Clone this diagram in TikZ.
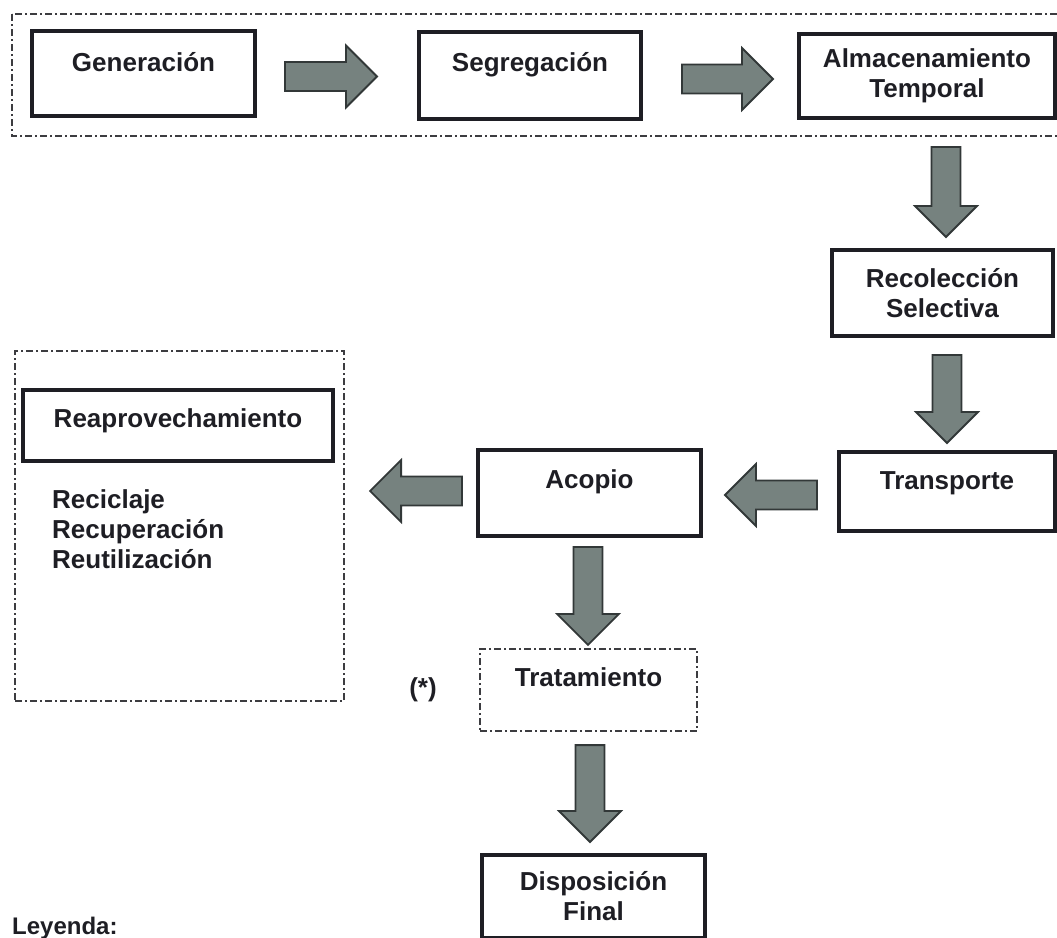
\documentclass[tikz,border=0pt]{standalone}
\usepackage{fontspec}
\setmainfont{Liberation Sans}
\usetikzlibrary{calc}

\definecolor{tinta}{RGB}{30,30,36}
\definecolor{grisflecha}{RGB}{118,130,127}
\definecolor{bordeflecha}{RGB}{50,56,56}
\definecolor{grismarco}{RGB}{60,60,64}

% flecha gruesa de #1 a #2
\newcommand{\flecha}[2]{%
  \path ($(#2)!31pt!(#1)$) coordinate (hb);
  \filldraw[flechagris] ($(#1)!14.5pt!90:(#2)$) -- ($(hb)!14.5pt!90:(#2)$)
    -- ($(hb)!31pt!90:(#2)$) -- (#2) -- ($(hb)!31pt!-90:(#2)$)
    -- ($(hb)!14.5pt!-90:(#2)$) -- ($(#1)!14.5pt!-90:(#2)$) -- cycle;}

\begin{document}
\begin{tikzpicture}[x=1pt,y=-1pt,
                    every node/.style={font=\fontsize{26}{30}\selectfont\bfseries, text=tinta},
                    caja/.style={draw=tinta, line width=4pt},
                    unalinea/.style={text height=19pt, text depth=#1},
                    unalinea/.default=25pt,
                    marco/.style={draw=grismarco, line width=2.2pt,
                            dash pattern=on 7pt off 3pt on 2pt off 3pt},
                    flechagris/.style={fill=grisflecha, draw=bordeflecha, line width=1.8pt}]

                    \useasboundingbox (0,0) rectangle (1057,937);
                    \clip (0,0) rectangle (1057,937);

                    % marcos
                    \draw[marco] (12,14) rectangle (1080,136);
                    \node[marco, minimum width=329pt, minimum height=350pt] (reuso) at (179.5,526) {};

                    % cajas
                    \node[caja, unalinea=23pt, minimum width=223pt, minimum height=85pt] (gen) at (143.5,73.5) {Generación};
                    \node[caja, unalinea=27pt, minimum width=222pt, minimum height=87pt] (seg) at (530,75.5) {Segregación};
                    \node[caja, align=center, minimum width=256pt, minimum height=84pt] (alm) at (927,76) {Almacenamiento\\Temporal};
                    \node[caja, align=center, minimum width=221pt, minimum height=86pt] (rec) at (942.5,293) {Recolección\\Selectiva};
                    \node[caja, unalinea=23pt, minimum width=216pt, minimum height=79pt] (tra) at (947,491.5) {Transporte};
                    \node[caja, unalinea=28pt, minimum width=223pt, minimum height=86pt] (aco) at (589.5,493) {Acopio};
                    \node[caja, unalinea=15pt, minimum width=310pt, minimum height=71pt] (reap) at (178,425.5) {Reaprovechamiento};
                    \node[marco, unalinea=26pt, minimum width=217pt, minimum height=82pt] (trat) at (588.5,690) {Tratamiento};
                    \node[caja, align=center, minimum width=223pt, minimum height=83pt] (dis) at (593.5,896.5) {Disposición\\Final};

                    \node[anchor=north west, inner sep=0pt, align=left] (lista) at (52,489)
                        {Reciclaje\\Recuperación\\Reutilización};
                    \node (nota) at (423,690) {(*)};
                    \node[anchor=base west, inner sep=0pt, font=\fontsize{24}{28}\selectfont\bfseries] (leyenda) at (12,934) {Leyenda:};

                    % flechas
                    \coordinate (f1a) at ([shift={(28,3)}]gen.east);
                    \coordinate (f1b) at ([shift={(-40,1)}]seg.west);
                    \coordinate (f2a) at ([shift={(39,3.5)}]seg.east);
                    \coordinate (f2b) at ([shift={(-24,3)}]alm.west);
                    \coordinate (f3a) at ([shift={(19,27)}]alm.south);
                    \coordinate (f3b) at ([shift={(3.5,-11)}]rec.north);
                    \coordinate (f4a) at ([shift={(4.5,17)}]rec.south);
                    \coordinate (f4b) at ([shift={(0,-7)}]tra.north);
                    \coordinate (f5a) at ([shift={(-20,3.5)}]tra.west);
                    \coordinate (f5b) at ([shift={(22,2)}]aco.east);
                    \coordinate (f6a) at ([shift={(-14,-2)}]aco.west);
                    \coordinate (f6b) at ([shift={(25,-35)}]reuso.east);
                    \coordinate (f7a) at ([shift={(-1.5,9)}]aco.south);
                    \coordinate (f7b) at ([shift={(-0.5,-3)}]trat.north);
                    \coordinate (f8a) at ([shift={(1.5,13)}]trat.south);
                    \coordinate (f8b) at ([shift={(-3.5,-11)}]dis.north);

                    \foreach \a/\b in {f1a/f1b, f2a/f2b, f3a/f3b, f4a/f4b, f5a/f5b, f6a/f6b, f7a/f7b, f8a/f8b}
                        \flecha{\a}{\b};
                \end{tikzpicture}
\end{document}
